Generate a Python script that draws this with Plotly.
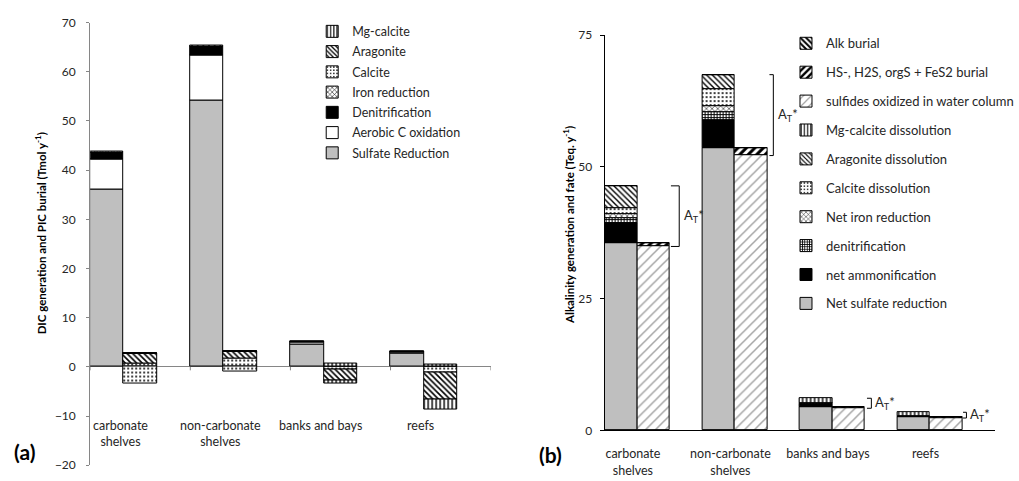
import plotly.graph_objects as go

# ---------------- data ----------------
categories = ["carbonate<br>shelves", "non-carbonate<br>shelves", "banks and bays", "reefs"]

# (a) DIC generation (bar 1) and PIC dissolution / burial (bar 2), Tmol y-1
sulfate_reduction = [36.1, 54.2, 4.45, 2.7]
aerobic_c_oxidation = [6.0, 9.0, 0.55, 0.3]
denitrification_a = [1.5, 2.0, 0.25, 0.15]
iron_reduction_a = [0.15, 0.2, 0.0, 0.0]
calcite_dissolved = [0.6, 1.7, 0.0, 0.0]
calcite_buried = [-3.3, -0.9, -0.45, -1.1]
aragonite_dissolved = [2.2, 1.45, 0.0, 0.0]
aragonite_buried = [0.0, 0.0, -2.23, -5.58]
mgcalcite_dissolved = [0.0, 0.0, 0.67, 0.4]
mgcalcite_buried = [0.0, 0.0, -0.65, -1.97]

# (b) alkalinity generation (bar 1) and fate (bar 2), Teq y-1
net_sulfate_reduction = [35.6, 53.5, 4.4, 2.5]
net_ammonification = [3.7, 5.4, 0.5, 0.2]
denitrification_b = [1.0, 1.45, 0.2, 0.0]
net_iron_reduction = [0.75, 1.1, 0.0, 0.0]
calcite_dissolution = [1.1, 3.25, 0.0, 0.0]
aragonite_dissolution = [4.25, 2.8, 0.0, 0.0]
mgcalcite_dissolution = [0.0, 0.0, 1.0, 0.74]
sulfides_oxidized = [34.9, 52.15, 4.2, 2.35]
sulfide_burial = [0.7, 1.35, 0.15, 0.1]
alk_burial = [0.0, 0.0, 0.0, 0.0]

# ---------------- styling helpers ----------------
FONT = "Lato"
TXT = "#262626"
GREY = "#BFBFBF"
AXG = "#868686"
W = 1 / 3
idx = list(range(len(categories)))
x_gen = [i + W / 2 for i in idx]
x_fate = [i + 1.5 * W for i in idx]


def pat(shape, size, solidity, fg="black", bg="white"):
    return dict(shape=shape, size=size, solidity=solidity, fgcolor=fg, bgcolor=bg, fillmode="replace")


def bar(x, y, name, rank, color="white", pattern=None, xa="x", ya="y", legend="legend", show=True):
    m = dict(color=color, line=dict(color="black", width=1))
    if pattern:
        m["pattern"] = pattern
    return go.Bar(x=x, y=y, name=name, width=W, marker=m, xaxis=xa, yaxis=ya,
                  legend=legend, legendgroup=legend + name, legendrank=rank,
                  showlegend=show, hoverinfo="name+y")


fig = go.Figure()

# ---- panel (a) ----
fig.add_trace(bar(x_gen, sulfate_reduction, "Sulfate Reduction", 7, GREY))
fig.add_trace(bar(x_gen, aerobic_c_oxidation, "Aerobic C oxidation", 6, "white"))
fig.add_trace(bar(x_gen, denitrification_a, "Denitrification", 5, "black"))
fig.add_trace(bar(x_gen, iron_reduction_a, "Iron reduction", 4, pattern=pat("x", 4, 0.3)))
p_cal = pat(".", 4, 0.2)
p_ara = pat("\\", 4, 0.4)
p_mg = pat("|", 4, 0.35)
fig.add_trace(bar(x_fate, calcite_dissolved, "Calcite", 3, pattern=p_cal))
fig.add_trace(bar(x_fate, calcite_buried, "Calcite", 3, pattern=p_cal, show=False))
fig.add_trace(bar(x_fate, aragonite_dissolved, "Aragonite", 2, pattern=p_ara))
fig.add_trace(bar(x_fate, aragonite_buried, "Aragonite", 2, pattern=p_ara, show=False))
fig.add_trace(bar(x_fate, mgcalcite_dissolved, "Mg-calcite", 1, pattern=p_mg))
fig.add_trace(bar(x_fate, mgcalcite_buried, "Mg-calcite", 1, pattern=p_mg, show=False))

# ---- panel (b) ----
kb = dict(xa="x2", ya="y2", legend="legend2")
fig.add_trace(bar(x_gen, net_sulfate_reduction, "Net sulfate reduction", 10, GREY, **kb))
fig.add_trace(bar(x_gen, net_ammonification, "net ammonification", 9, "black", **kb))
fig.add_trace(bar(x_gen, denitrification_b, "denitrification", 8, pattern=pat("+", 3, 0.55), **kb))
fig.add_trace(bar(x_gen, net_iron_reduction, "Net iron reduction", 7, pattern=pat("x", 4, 0.25), **kb))
fig.add_trace(bar(x_gen, calcite_dissolution, "Calcite dissolution", 6, pattern=pat(".", 4, 0.2), **kb))
fig.add_trace(bar(x_gen, aragonite_dissolution, "Aragonite dissolution", 5, pattern=pat("\\", 4, 0.35), **kb))
fig.add_trace(bar(x_gen, mgcalcite_dissolution, "Mg-calcite dissolution", 4, pattern=pat("|", 4, 0.35), **kb))
fig.add_trace(bar(x_fate, sulfides_oxidized, "sulfides oxidized in water column", 3,
                  pattern=pat("/", 7, 0.22, fg="#A6A6A6"), **kb))
fig.add_trace(bar(x_fate, sulfide_burial, "HS-, H2S, orgS + FeS2 burial", 2, pattern=pat("/", 6, 0.5), **kb))
fig.add_trace(bar(x_fate, alk_burial, "Alk burial", 1, pattern=pat("\\", 5, 0.5), **kb))

# ---- A_T* brackets: from total generation down to the oxidized-sulfide level ----
gen_b = [net_sulfate_reduction, net_ammonification, denitrification_b, net_iron_reduction,
         calcite_dissolution, aragonite_dissolution, mgcalcite_dissolution]
bracket_x = [(0.68, 0.765, 0.79), (1.69, 1.73, 1.76), (2.69, 2.735, 2.75), (3.675, 3.71, 3.725)]
shapes = []
annotations = []
for i in idx:
    top = sum(s[i] for s in gen_b)
    bot = sulfides_oxidized[i]
    x0, x1, xt = bracket_x[i]
    shapes.append(dict(type="path", xref="x2", yref="y2",
                       path=f"M{x0},{top} L{x1},{top} L{x1},{bot} L{x0},{bot}",
                       line=dict(color="black", width=1)))
    annotations.append(dict(x=xt, y=(top + bot) / 2, xref="x2", yref="y2",
                            text="A<sub>T</sub>*", showarrow=False, xanchor="left", yanchor="middle",
                            font=dict(family=FONT, size=13, color=TXT)))

# small category boundary ticks on the zero line of panel (a)
for i in range(len(categories) + 1):
    shapes.append(dict(type="line", xref="x", yref="y", x0=i, x1=i, y0=0, y1=-0.7,
                       line=dict(color=AXG, width=1)))

# category labels of panel (a), set low below the zero line
for i in idx:
    annotations.append(dict(x=i + 0.3, y=-10.0, xref="x", yref="y", text=categories[i],
                            showarrow=False, xanchor="center", yanchor="top", align="center",
                            font=dict(family=FONT, size=12.5, color=TXT)))

# axis titles and panel letters (positions in pixels, converted below)
WPX, HPX = 1019, 481
paper_text = [
    (41, 233, "DIC generation and PIC burial (Tmol y<sup>-1</sup>)", -90, 11.5),
    (573, 224, "Alkalinity generation and fate (Teq. y<sup>-1</sup>)", -90, 11.5),
    (25, 458, "(a)", 0, 21),
    (555, 461, "(b)", 0, 21),
]
for px, py, txt, ang, sz in paper_text:
    annotations.append(dict(x=px / WPX, y=1 - py / HPX, xref="paper", yref="paper", text=txt,
                            textangle=ang, showarrow=False, xanchor="center", yanchor="middle",
                            font=dict(family=FONT, size=sz, color="black", weight="bold")))

fig.update_layout(
    width=WPX, height=HPX, autosize=False,
    margin=dict(l=0, r=0, t=0, b=0),
    paper_bgcolor="white", plot_bgcolor="white",
    barmode="relative", bargap=0,
    font=dict(family=FONT, size=11, color=TXT),
    shapes=shapes, annotations=annotations,
    xaxis=dict(domain=[91 / WPX, 495 / WPX], range=[0, 4], visible=False),
    yaxis=dict(domain=[1 - 472 / HPX, 1 - 15 / HPX], range=[-20, 70], dtick=10,
               showline=True, linecolor=AXG, linewidth=1, ticks="outside", ticklen=3,
               tickcolor=AXG, showgrid=False, zeroline=True, zerolinecolor=AXG,
               zerolinewidth=1, ticklabelstandoff=8, tickfont=dict(size=12)),
    xaxis2=dict(domain=[610 / WPX, 1003.6 / WPX], range=[0, 4], anchor="y2",
                showline=True, linecolor="black", linewidth=1, ticks="", showgrid=False,
                zeroline=False, tickvals=[i + 0.29 for i in idx], ticktext=categories,
                tickfont=dict(size=12.5), ticklabelstandoff=12),
    yaxis2=dict(domain=[1 - 436 / HPX, 1 - 28 / HPX], range=[0, 75], dtick=25, anchor="x2",
                showline=True, linecolor="black", linewidth=1, ticks="outside", ticklen=4,
                tickcolor="black", showgrid=False, zeroline=False, ticklabelstandoff=5,
                tickfont=dict(size=12)),
    legend=dict(x=(355 - 40) / WPX, y=1 - 9 / HPX, xanchor="left", yanchor="top",
                traceorder="grouped", tracegroupgap=1, bgcolor="rgba(0,0,0,0)",
                font=dict(family=FONT, size=12.5, color=TXT)),
    legend2=dict(x=(833 - 40) / WPX, y=1 - 21 / HPX, xanchor="left", yanchor="top",
                 traceorder="grouped", tracegroupgap=9, bgcolor="rgba(0,0,0,0)",
                 font=dict(family=FONT, size=13, color=TXT)),
)

fig.write_html("out.html")
